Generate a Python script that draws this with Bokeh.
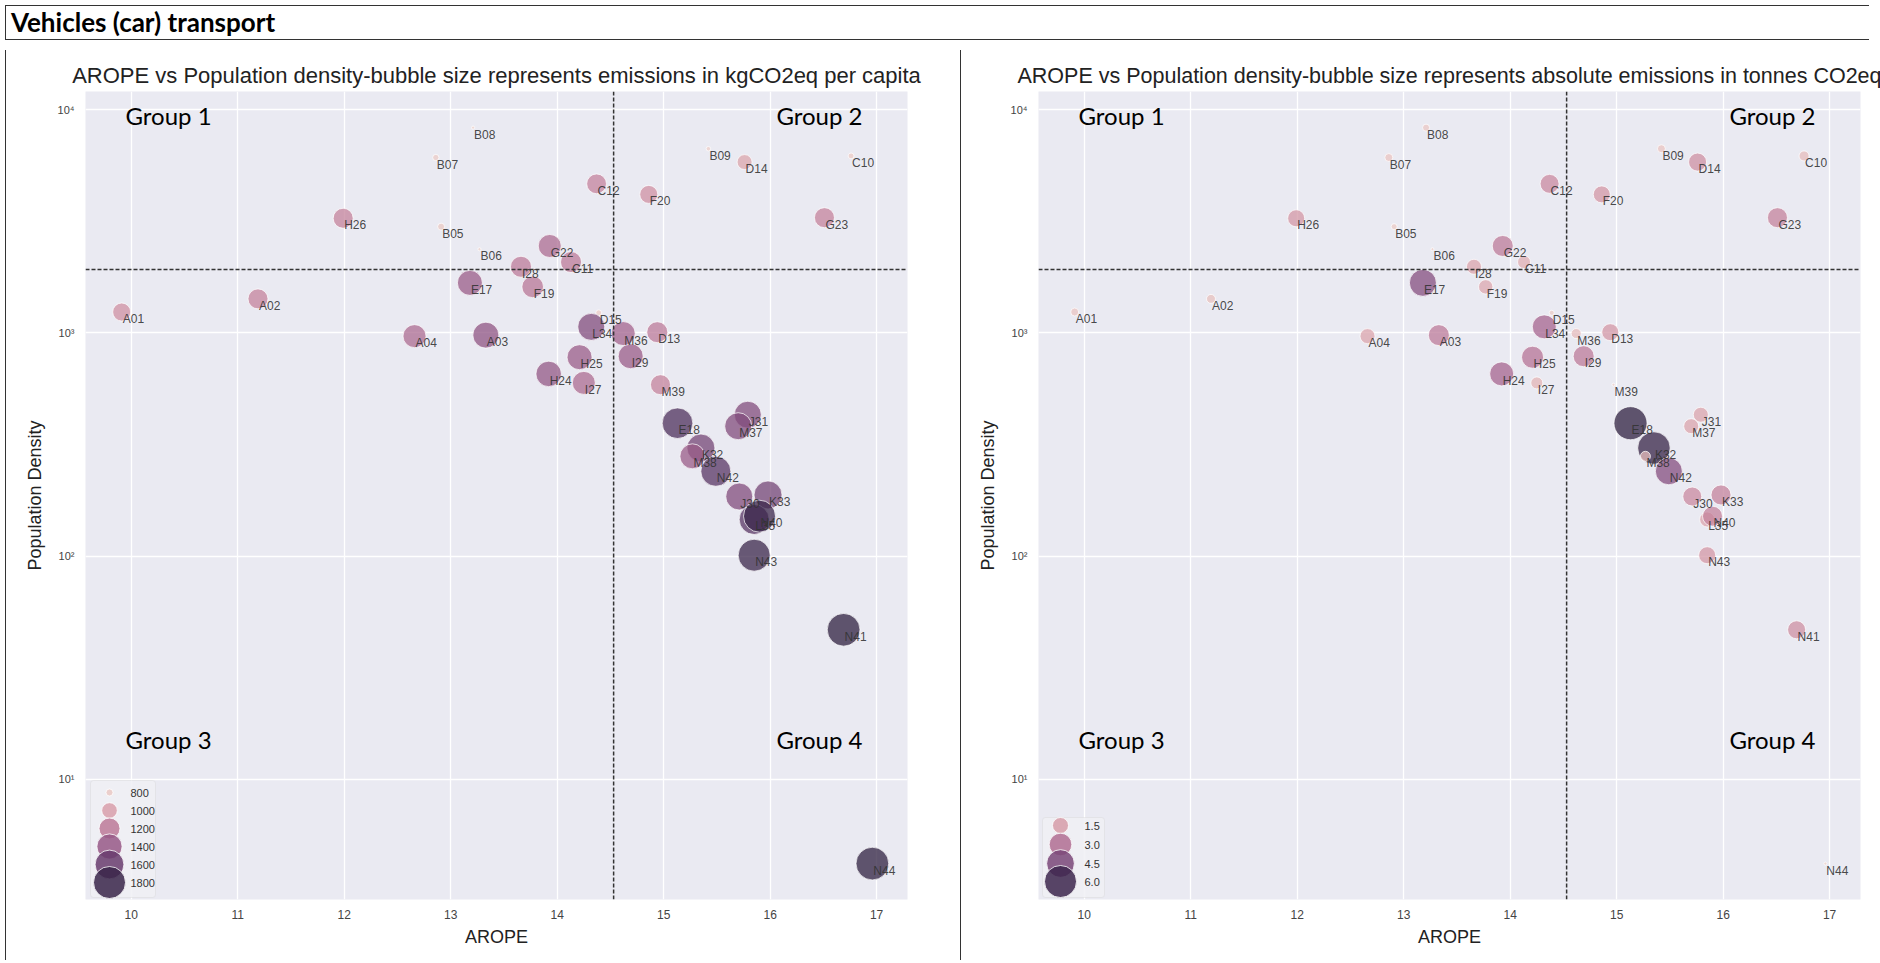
import numpy as np
from bokeh.plotting import figure
from bokeh.models import (ColumnDataSource, LinearColorMapper, FixedTicker, Span, Label,
                          BoxAnnotation, Div, Range1d)
from bokeh.layouts import column, row
from bokeh.embed import file_html
from bokeh.resources import INLINE
from bokeh.core.properties import value
from bokeh.transform import transform

# ---------------- data ----------------
names = ["A01", "A02", "A03", "A04", "B05", "B06", "B07", "B08", "B09", "C10", "C11", "C12",
         "D13", "D14", "D15", "E17", "E18", "F19", "F20", "G22", "G23", "H24", "H25", "H26",
         "I27", "I28", "I29", "J30", "J31", "K32", "K33", "L34", "L35", "M36", "M37", "M38",
         "M39", "N40", "N41", "N42", "N43", "N44"]
arope = [9.91, 11.19, 13.33, 12.66, 12.91, 13.27, 12.86, 13.21, 15.42, 16.76, 14.13, 14.37,
         14.94, 15.76, 14.39, 13.18, 15.13, 13.77, 14.86, 13.93, 16.51, 13.92, 14.21, 11.99,
         14.25, 13.66, 14.69, 15.71, 15.79, 15.35, 15.98, 14.32, 15.85, 14.62, 15.70, 15.27,
         14.97, 15.90, 16.69, 15.49, 15.85, 16.96]
density = [1240, 1420, 977, 967, 2990, 2370, 6100, 8300, 6680, 6200, 2075, 4650,
           1007, 5820, 1230, 1675, 394, 1607, 4170, 2450, 3280, 655, 778, 3260,
           597, 1977, 786, 185, 430, 305, 188, 1064, 146, 993, 382, 280,
           586, 151, 46.8, 240, 101, 4.2]
emis_per_capita = [1082, 1160, 1443, 1292, 800, 760, 790, 760, 770, 785, 1202, 1150,
                   1202, 980, 785, 1390, 1716, 1228, 1082, 1292, 1160, 1416, 1390, 1160,
                   1292, 1202, 1390, 1497, 1497, 1554, 1554, 1497, 1673, 1340, 1497, 1390,
                   1160, 1800, 1850, 1673, 1800, 1850]
emis_absolute = [0.37, 0.47, 2.58, 1.32, 0.21, 0.05, 0.37, 0.29, 0.37, 0.59, 0.99, 2.10,
                 1.69, 1.90, 0.15, 4.27, 6.40, 1.21, 1.69, 2.58, 2.34, 3.37, 2.84, 1.69,
                 0.84, 1.32, 2.58, 2.10, 1.32, 6.20, 2.34, 3.37, 1.32, 0.59, 1.32, 0.59,
                 0.03, 2.34, 1.90, 4.27, 1.69, 0.02]

legend_pc_values = [800, 1000, 1200, 1400, 1600, 1800]
legend_pc_labels = ["800", "1000", "1200", "1400", "1600", "1800"]
legend_abs_values = [1.5, 3.0, 4.5, 6.0]
legend_abs_labels = ["1.5", "3.0", "4.5", "6.0"]

x_ticks = [10, 11, 12, 13, 14, 15, 16, 17]
y_ticks = [10, 100, 1000, 10000]
y_tick_labels = {10: "10\u00b9", 100: "10\u00b2", 1000: "10\u00b3", 10000: "10\u2074"}

AROPE_SPLIT = 14.53
DENSITY_SPLIT = 1920

HEADER = "Vehicles (car) transport"
TITLE_L = "AROPE vs Population density-bubble size represents emissions in kgCO2eq per capita"
TITLE_R = "AROPE vs Population density-bubble size represents absolute emissions in tonnes CO2eq"
GROUPS = ["Group 1", "Group 2", "Group 3", "Group 4"]

# ---------------- layout constants ----------------
X_RANGE = (9.57, 17.29)
Y_RANGE = (2.9, 12050.0)
FRAME_W, FRAME_H = 822, 808
FIG_H = 910
FONT = "Liberation Sans"


def data_x(px):
    return X_RANGE[0] + px / FRAME_W * (X_RANGE[1] - X_RANGE[0])


def data_y(py):
    lt, lb = np.log10(Y_RANGE[1]), np.log10(Y_RANGE[0])
    return 10 ** (lt - py / FRAME_H * (lt - lb))


def cubehelix(n=256, start=0.0, rot=0.4, gamma=1.0, hue=0.8, light=0.85, dark=0.15):
    out = []
    for x in np.linspace(light, dark, n):
        xg = x ** gamma
        a = hue * xg * (1 - xg) / 2
        phi = 2 * np.pi * (start / 3 + rot * x)
        c, s = np.cos(phi), np.sin(phi)
        r = xg + a * (-0.14861 * c + 1.78277 * s)
        g = xg + a * (-0.29227 * c - 0.90649 * s)
        b = xg + a * (1.97294 * c)
        rgb = [int(round(255 * min(max(v, 0), 1))) for v in (r, g, b)]
        out.append("#%02x%02x%02x" % tuple(rgb))
    return out


PALETTE = cubehelix()


def size_pc(v):
    return np.sqrt(np.clip(49 + (np.asarray(v, float) - 800) * 0.975, 9, None))


def size_abs(v):
    return np.sqrt(np.clip(170.7 * np.asarray(v, float), 9, None))


def make_panel(title, title_size, vals, size_fn, low, high, leg_vals, leg_labels, leg_rows_py,
               leg_box, leg_cx, leg_tx, width, bl, br):
    p = figure(width=width, height=FIG_H, y_axis_type="log",
               x_range=Range1d(*X_RANGE), y_range=Range1d(*Y_RANGE),
               output_backend="svg", toolbar_location=None,
               min_border_left=bl, min_border_right=br, min_border_top=46, min_border_bottom=56,
               background_fill_color="#eaeaf2", border_fill_color="white", outline_line_color=None)
    p.title.text = title
    p.title.text_font = FONT
    p.title.text_font_size = title_size
    p.title.text_font_style = "normal"
    p.title.text_color = "#222222"
    p.title.align = "center"
    p.title.standoff = 7

    mapper = LinearColorMapper(palette=PALETTE, low=low, high=high)
    src = ColumnDataSource(dict(x=arope, y=density, v=vals, s=size_fn(vals), name=names))
    p.scatter("x", "y", size="s", source=src, fill_color=transform("v", mapper),
              fill_alpha=0.74, line_color="white", line_width=0.8, line_alpha=0.9)
    p.text("x", "y", text="name", source=src, text_font=value(FONT), text_font_size="12px",
           text_color="#333333", text_alpha=0.9, text_baseline="top", x_offset=1, y_offset=0)

    for axis in (p.xaxis, p.yaxis):
        axis.axis_line_color = None
        axis.major_tick_line_color = None
        axis.minor_tick_line_color = None
        axis.major_tick_out = 0
        axis.major_tick_in = 0
        axis.minor_tick_out = 0
        axis.minor_tick_in = 0
        axis.major_label_text_font = FONT
        axis.major_label_text_color = "#444444"
        axis.axis_label_text_font = FONT
        axis.axis_label_text_font_style = "normal"
        axis.axis_label_text_font_size = "18px"
        axis.axis_label_text_color = "#222222"
    p.xaxis.ticker = FixedTicker(ticks=x_ticks, minor_ticks=[])
    p.yaxis.ticker = FixedTicker(ticks=y_ticks, minor_ticks=[])
    p.yaxis.major_label_overrides = y_tick_labels
    p.xaxis.major_label_text_font_size = "12px"
    p.yaxis.major_label_text_font_size = "11px"
    p.xaxis.major_label_standoff = 10
    p.yaxis.major_label_standoff = 11
    p.xaxis.axis_label = "AROPE"
    p.yaxis.axis_label = "Population Density"
    p.xaxis.axis_label_standoff = 5
    p.yaxis.axis_label_standoff = 10
    p.xgrid.grid_line_color = "white"
    p.ygrid.grid_line_color = "white"
    p.xgrid.grid_line_width = 1.3
    p.ygrid.grid_line_width = 1.3

    p.add_layout(Span(location=AROPE_SPLIT, dimension="height", line_color="#333333",
                      line_dash="4 2", line_width=1.5))
    p.add_layout(Span(location=DENSITY_SPLIT, dimension="width", line_color="#333333",
                      line_dash="4 2", line_width=1.5))

    # group labels
    for txt, px, py, al in ((GROUPS[0], 40, 24, "left"), (GROUPS[1], 777, 24, "right"),
                            (GROUPS[2], 40, 648, "left"), (GROUPS[3], 777, 648, "right")):
        p.add_layout(Label(x=data_x(px), y=data_y(py), text=txt, text_font="Lato",
                           text_font_size="24px", text_color="#000000", text_align=al,
                           text_baseline="middle"))

    # size legend
    p.add_layout(BoxAnnotation(left=data_x(leg_box[0]), right=data_x(leg_box[1]),
                               top=data_y(leg_box[2]), bottom=data_y(leg_box[3]),
                               fill_color="#f0f0f5", fill_alpha=0.85, line_color="#cccccc",
                               line_width=1, border_radius=3, level="underlay"))
    lsrc = ColumnDataSource(dict(x=[data_x(leg_cx)] * len(leg_vals),
                                 tx=[data_x(leg_tx)] * len(leg_vals),
                                 y=[data_y(v) for v in leg_rows_py],
                                 v=leg_vals, s=size_fn(leg_vals), lab=leg_labels))
    p.scatter("x", "y", size="s", source=lsrc, fill_color=transform("v", mapper),
              fill_alpha=0.85, line_color="white", line_width=0.8)
    p.text("tx", "y", text="lab", source=lsrc, text_font=value(FONT), text_font_size="11px",
           text_color="#333333", text_baseline="middle", text_align="left")
    return p


p_left = make_panel(TITLE_L, "22px", emis_per_capita, size_pc, 760, 1850,
                    legend_pc_values, legend_pc_labels, [701, 719, 737, 755, 773, 791],
                    (5, 70, 689, 806), 24, 45, 944, 74, 48)
p_right = make_panel(TITLE_R, "21.5px", emis_absolute, size_abs, 0.0, 6.4,
                     legend_abs_values, legend_abs_labels, [734, 753, 772, 790],
                     (4, 66, 726, 806), 22, 46, 918, 72, 24)

header = Div(text=HEADER, width=1864, height=35,
             styles={"font-family": "Lato", "font-weight": "bold", "font-size": "26px",
                     "color": "#000000", "border-top": "1px solid #333",
                     "border-left": "1px solid #333", "border-bottom": "1px solid #333",
                     "box-sizing": "border-box", "padding-left": "5px",
                     "line-height": "32px", "overflow": "hidden"})
vline1 = Div(text="", width=1, height=FIG_H, styles={"background-color": "#333333"})
vline2 = Div(text="", width=1, height=FIG_H, styles={"background-color": "#333333"})
hline = Div(text="", width=1864, height=1, styles={"background-color": "#333333"})

layout = column(header, row(vline1, p_left, vline2, p_right), hline)

open("out.html", "w").write(file_html(layout, INLINE))
